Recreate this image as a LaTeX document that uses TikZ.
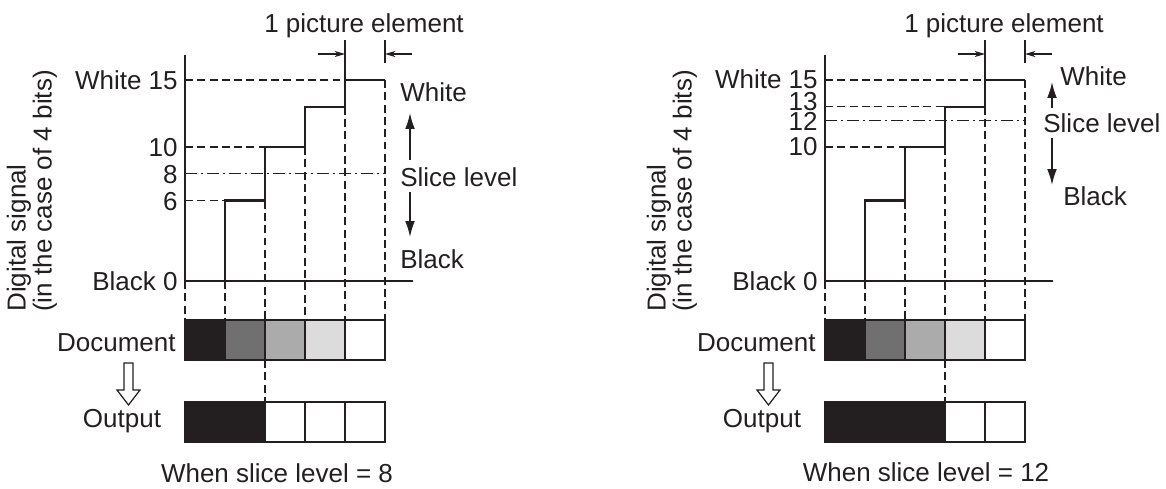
\documentclass[tikz,border=0pt]{standalone}
\usepackage{fontspec}
\setmainfont{Liberation Sans}
\usetikzlibrary{arrows.meta}

\definecolor{ink}{HTML}{231F20}
\definecolor{grayA}{HTML}{707070}
\definecolor{grayB}{HTML}{ABABAB}
\definecolor{grayC}{HTML}{DCDCDC}

\tikzset{
  sig/.style={line width=1.4pt, draw=ink},
  guide/.style={line width=0.7pt, draw=ink, dash pattern=on 4.5pt off 2.5pt},
  slice/.style={line width=0.7pt, draw=ink, dash pattern=on 7pt off 2pt on 1.5pt off 2pt},
  lbl/.style={inner sep=0pt, text=ink, font=\fontsize{14.8pt}{17pt}\selectfont},
  cell/.style={draw=ink, line width=1.2pt},
  dir/.style={line width=0.9pt, draw=ink, -{Latex[length=9pt,width=5.5pt]}},
  pel/.style={line width=0.7pt, draw=ink, -{Stealth[length=6pt,width=3.5pt]}},
  hollow/.style={line width=0.7pt, draw=ink, fill=white}
}

\begin{document}
\begin{tikzpicture}[x=0.02cm, y=-0.02cm]
  \useasboundingbox (0,0) rectangle (1166,488);

  % ---------- left panel: slice level 8 ----------
  \begin{scope}
    % the axes and the signal
    \draw[sig] (185,55) -- (185,281) -- (413,281);
    \draw[sig] (185,281) -- (225,281) -- (225,200.6) -- (265,200.6) -- (265,147)
      -- (305,147) -- (305,106.8) -- (345,106.8) -- (345,80) -- (385,80);

    % levels
    \draw[guide] (185,80) -- (345,80);
    \draw[guide] (185,147) -- (265,147);
    \draw[guide] (185,200.6) -- (225,200.6);
    \draw[slice] (185,173.8) -- (385,173.8);

    % element borders
    \draw[guide] (185,281) -- (185,320);
    \draw[guide] (225,281) -- (225,320);
    \draw[guide] (265,200.6) -- (265,320);
    \draw[guide] (305,147) -- (305,320);
    \draw[guide] (345,106.8) -- (345,320);
    \draw[guide] (385,80) -- (385,320);
    \draw[guide] (265,360) -- (265,402);

    % one picture element
    \draw[line width=0.7pt, draw=ink] (345,40) -- (345,80);
    \draw[line width=0.7pt, draw=ink] (385,40) -- (385,63);
    \coordinate (pa1) at (318,54);
    \coordinate (pb1) at (345,54);
    \coordinate (pc1) at (412,54);
    \coordinate (pd1) at (385,54);
    \draw[pel] (pa1) -- (pb1);
    \draw[pel] (pc1) -- (pd1);
    \node[lbl, anchor=base] (pel1) at (364,32) {1 picture element};

    % the level labels
    \node[lbl, anchor=base east] (w1) at (178,89) {White 15};
    \node[lbl, anchor=base east] (ten1) at (178,156) {10};
    \node[lbl, anchor=base east] (eight1) at (178,183) {8};
    \node[lbl, anchor=base east] (six1) at (178,210) {6};
    \node[lbl, anchor=base east] (b1) at (178,290) {Black 0};
    \node[lbl, anchor=west, rotate=90, align=left,
          font=\fontsize{14.8pt}{13pt}\selectfont] (ax1) at (32,312)
          {Digital signal\\(in the case of 4 bits)};

    % white / slice level / black
    \node[lbl, anchor=base west] (white1) at (400,101) {White};
    \node[lbl, anchor=base west] (sl1) at (400,186) {Slice level};
    \node[lbl, anchor=base west] (black1) at (400,268) {Black};
    \coordinate (ua1) at (410,160);
    \coordinate (ub1) at (410,113);
    \coordinate (da1) at (410,192);
    \coordinate (db1) at (410,237);
    \draw[dir] (ua1) -- (ub1);
    \draw[dir] (da1) -- (db1);

    % document
    \draw[cell, fill=ink] (185,320) rectangle (225,360);
    \draw[cell, fill=grayA] (225,320) rectangle (265,360);
    \draw[cell, fill=grayB] (265,320) rectangle (305,360);
    \draw[cell, fill=grayC] (305,320) rectangle (345,360);
    \draw[cell, fill=white] (345,320) rectangle (385,360);
    \node[lbl, anchor=base east] (doc1) at (176,351) {Document};

    % output
    \draw[cell, fill=ink] (185,402) rectangle (265,442);
    \draw[cell, fill=white] (265,402) rectangle (305,442);
    \draw[cell, fill=white] (305,402) rectangle (345,442);
    \draw[cell, fill=white] (345,402) rectangle (385,442);
    \node[lbl, anchor=base] (out1) at (122,427) {Output};
    \draw[hollow] (124,363) -- (133,363) -- (133,390) -- (140,390) -- (128.5,405)
      -- (117,390) -- (124,390) -- cycle;

    \node[lbl, anchor=base] (cap1) at (277,482) {When slice level = 8};
  \end{scope}

  % ---------- right panel: slice level 12 ----------
  \begin{scope}[shift={(640,0)}]
    % the axes and the signal
    \draw[sig] (185,55) -- (185,281) -- (413,281);
    \draw[sig] (185,281) -- (225,281) -- (225,200.6) -- (265,200.6) -- (265,147)
      -- (305,147) -- (305,106.8) -- (345,106.8) -- (345,80) -- (385,80);

    % levels
    \draw[guide] (185,80) -- (345,80);
    \draw[guide] (185,106.8) -- (305,106.8);
    \draw[guide] (185,147) -- (265,147);
    \draw[slice] (185,120.2) -- (385,120.2);

    % element borders
    \draw[guide] (185,281) -- (185,320);
    \draw[guide] (225,281) -- (225,320);
    \draw[guide] (265,200.6) -- (265,320);
    \draw[guide] (305,147) -- (305,320);
    \draw[guide] (345,106.8) -- (345,320);
    \draw[guide] (385,80) -- (385,320);
    \draw[guide] (305,360) -- (305,402);

    % one picture element
    \draw[line width=0.7pt, draw=ink] (345,40) -- (345,80);
    \draw[line width=0.7pt, draw=ink] (385,40) -- (385,63);
    \coordinate (pa2) at (318,54);
    \coordinate (pb2) at (345,54);
    \coordinate (pc2) at (412,54);
    \coordinate (pd2) at (385,54);
    \draw[pel] (pa2) -- (pb2);
    \draw[pel] (pc2) -- (pd2);
    \node[lbl, anchor=base] (pel2) at (364,32) {1 picture element};

    % the level labels
    \node[lbl, anchor=base east] (w2) at (178,88) {White 15};
    \node[lbl, anchor=base east] (thirteen2) at (178,110) {13};
    \node[lbl, anchor=base east] (twelve2) at (178,130) {12};
    \node[lbl, anchor=base east] (ten2) at (178,155) {10};
    \node[lbl, anchor=base east] (b2) at (178,290) {Black 0};
    \node[lbl, anchor=west, rotate=90, align=left,
          font=\fontsize{14.8pt}{13pt}\selectfont] (ax2) at (32,312)
          {Digital signal\\(in the case of 4 bits)};

    % white / slice level / black
    \node[lbl, anchor=base west] (white2) at (420,85) {White};
    \node[lbl, anchor=base west] (sl2) at (403,132) {Slice level};
    \node[lbl, anchor=base west] (black2) at (423,205) {Black};
    \coordinate (ua2) at (412,108);
    \coordinate (ub2) at (412,82);
    \coordinate (da2) at (412,138);
    \coordinate (db2) at (412,185);
    \draw[dir] (ua2) -- (ub2);
    \draw[dir] (da2) -- (db2);

    % document
    \draw[cell, fill=ink] (185,320) rectangle (225,360);
    \draw[cell, fill=grayA] (225,320) rectangle (265,360);
    \draw[cell, fill=grayB] (265,320) rectangle (305,360);
    \draw[cell, fill=grayC] (305,320) rectangle (345,360);
    \draw[cell, fill=white] (345,320) rectangle (385,360);
    \node[lbl, anchor=base east] (doc2) at (176,351) {Document};

    % output
    \draw[cell, fill=ink] (185,402) rectangle (305,442);
    \draw[cell, fill=white] (305,402) rectangle (345,442);
    \draw[cell, fill=white] (345,402) rectangle (385,442);
    \node[lbl, anchor=base] (out2) at (122,427) {Output};
    \draw[hollow] (124,363) -- (133,363) -- (133,390) -- (140,390) -- (128.5,405)
      -- (117,390) -- (124,390) -- cycle;

    \node[lbl, anchor=base] (cap2) at (286,481) {When slice level = 12};
  \end{scope}
\end{tikzpicture}
\end{document}
